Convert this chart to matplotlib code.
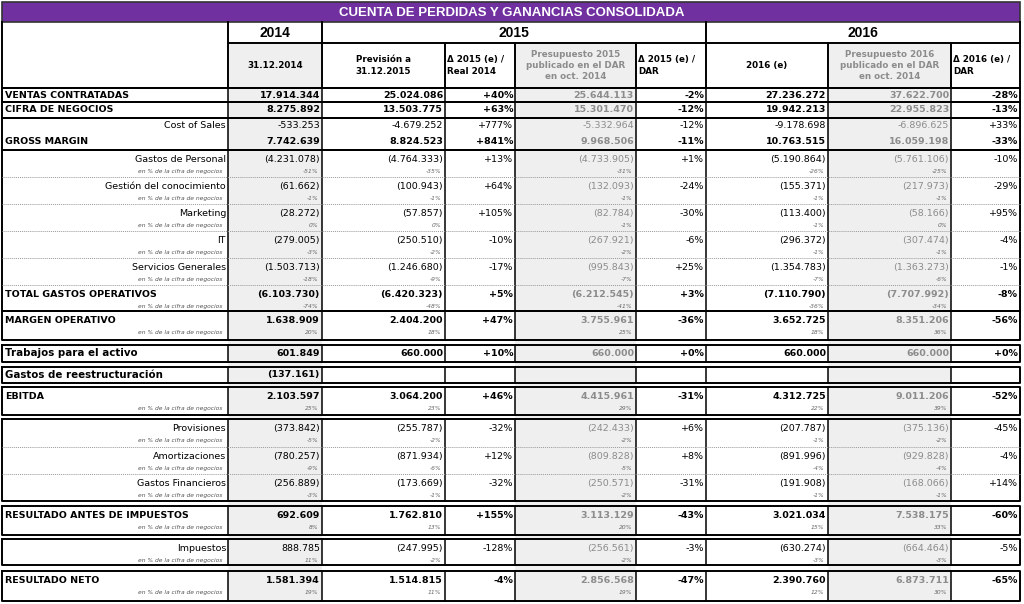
import matplotlib.pyplot as plt
from matplotlib.patches import Rectangle

# Row labels
labels = ["VENTAS CONTRATADAS", "CIFRA DE NEGOCIOS", "Cost of Sales", "GROSS MARGIN",
          "Gastos de Personal", "Gestión del conocimiento", "Marketing", "IT",
          "Servicios Generales", "TOTAL GASTOS OPERATIVOS", "MARGEN OPERATIVO",
          "Trabajos para el activo", "Gastos de reestructuración", "EBITDA",
          "Provisiones", "Amortizaciones", "Gastos Financieros",
          "RESULTADO ANTES DE IMPUESTOS", "Impuestos", "RESULTADO NETO"]
bold_rows = [1, 1, 0, 1, 0, 0, 0, 0, 0, 1, 1, 1, 1, 1, 0, 0, 0, 1, 0, 1]

# Values per column
real_2014 = ["17.914.344", "8.275.892", "-533.253", "7.742.639", "(4.231.078)", "(61.662)",
             "(28.272)", "(279.005)", "(1.503.713)", "(6.103.730)", "1.638.909", "601.849",
             "(137.161)", "2.103.597", "(373.842)", "(780.257)", "(256.889)", "692.609",
             "888.785", "1.581.394"]
prev_2015 = ["25.024.086", "13.503.775", "-4.679.252", "8.824.523", "(4.764.333)", "(100.943)",
             "(57.857)", "(250.510)", "(1.246.680)", "(6.420.323)", "2.404.200", "660.000",
             "", "3.064.200", "(255.787)", "(871.934)", "(173.669)", "1.762.810",
             "(247.995)", "1.514.815"]
d_2015_real = ["+40%", "+63%", "+777%", "+841%", "+13%", "+64%", "+105%", "-10%", "-17%",
               "+5%", "+47%", "+10%", "", "+46%", "-32%", "+12%", "-32%", "+155%", "-128%", "-4%"]
pres_2015 = ["25.644.113", "15.301.470", "-5.332.964", "9.968.506", "(4.733.905)", "(132.093)",
             "(82.784)", "(267.921)", "(995.843)", "(6.212.545)", "3.755.961", "660.000",
             "", "4.415.961", "(242.433)", "(809.828)", "(250.571)", "3.113.129",
             "(256.561)", "2.856.568"]
d_2015_dar = ["-2%", "-12%", "-12%", "-11%", "+1%", "-24%", "-30%", "-6%", "+25%", "+3%",
              "-36%", "+0%", "", "-31%", "+6%", "+8%", "-31%", "-43%", "-3%", "-47%"]
est_2016 = ["27.236.272", "19.942.213", "-9.178.698", "10.763.515", "(5.190.864)", "(155.371)",
            "(113.400)", "(296.372)", "(1.354.783)", "(7.110.790)", "3.652.725", "660.000",
            "", "4.312.725", "(207.787)", "(891.996)", "(191.908)", "3.021.034",
            "(630.274)", "2.390.760"]
pres_2016 = ["37.622.700", "22.955.823", "-6.896.625", "16.059.198", "(5.761.106)", "(217.973)",
             "(58.166)", "(307.474)", "(1.363.273)", "(7.707.992)", "8.351.206", "660.000",
             "", "9.011.206", "(375.136)", "(929.828)", "(168.066)", "7.538.175",
             "(664.464)", "6.873.711"]
d_2016_dar = ["-28%", "-13%", "+33%", "-33%", "-10%", "-29%", "+95%", "-4%", "-1%", "-8%",
              "-56%", "+0%", "", "-52%", "-45%", "-4%", "+14%", "-60%", "-5%", "-65%"]

# "en % de la cifra de negocios" sub values
pct_2014 = ["", "", "", "", "-51%", "-1%", "0%", "-3%", "-18%", "-74%", "20%", "", "", "25%",
            "-5%", "-9%", "-3%", "8%", "11%", "19%"]
pct_prev = ["", "", "", "", "-35%", "-1%", "0%", "-2%", "-9%", "-48%", "18%", "", "", "23%",
            "-2%", "-6%", "-1%", "13%", "-2%", "11%"]
pct_pres15 = ["", "", "", "", "-31%", "-1%", "-1%", "-2%", "-7%", "-41%", "25%", "", "", "29%",
              "-2%", "-5%", "-2%", "20%", "-2%", "19%"]
pct_2016 = ["", "", "", "", "-26%", "-1%", "-1%", "-1%", "-7%", "-36%", "18%", "", "", "22%",
            "-1%", "-4%", "-1%", "15%", "-3%", "12%"]
pct_pres16 = ["", "", "", "", "-25%", "-1%", "0%", "-1%", "-6%", "-34%", "36%", "", "", "39%",
              "-2%", "-4%", "-1%", "33%", "-3%", "30%"]

headers = ["31.12.2014", "Previsión a\n31.12.2015", "Δ 2015 (e) /\nReal 2014",
           "Presupuesto 2015\npublicado en el DAR\nen oct. 2014", "Δ 2015 (e) /\nDAR",
           "2016 (e)", "Presupuesto 2016\npublicado en el DAR\nen oct. 2014", "Δ 2016 (e) /\nDAR"]
years = ["2014", "2015", "2016"]
title = "CUENTA DE PERDIDAS Y GANANCIAS CONSOLIDADA"

# layout (pixels)
col_edges = [2, 228, 322, 445, 515, 636, 706, 828, 951, 1020]
row_top = [88, 102, 118, 134, 150, 177, 204, 231, 258, 285, 311, 345, 367, 387, 419, 447, 474, 506, 539, 571]
row_bot = [102, 118, 134, 150, 177, 204, 231, 258, 285, 311, 340, 362, 383, 415, 447, 474, 501, 535, 565, 601]
blocks = [[0], [1], [2, 3], [4, 5, 6, 7, 8, 9], [10], [11], [12], [13], [14, 15, 16], [17], [18], [19]]
gray_cols = [1, 4, 7]
budget_cols = [3, 6]
PURPLE = "#7030a0"
GRAYTXT = "#8c8c8c"
FILL = "#efefef"

fig = plt.figure(figsize=(10.24, 6.04), dpi=100)
ax = fig.add_axes([0, 0, 1, 1])
ax.set_xlim(0, 1024)
ax.set_ylim(604, 0)
ax.axis("off")

# shaded columns
for c in gray_cols:
    ax.add_patch(Rectangle((col_edges[c], 43), col_edges[c + 1] - col_edges[c], 601 - 43,
                           facecolor=FILL, edgecolor="none", zorder=0))

# title bar
ax.add_patch(Rectangle((2, 2), 1018, 20, facecolor=PURPLE, edgecolor="#333333", lw=1.2, zorder=1))
ax.text(512, 12.5, title, color="white", fontsize=9.5, fontweight="bold",
        family="Liberation Sans", ha="center", va="center")

# year row
lw = 1.4
ax.plot([2, 2, 1020, 1020], [22, 88, 88, 22], color="black", lw=lw)
ax.plot([228, 1020], [43, 43], color="black", lw=lw)
for x in [228, 322, 706]:
    ax.plot([x, x], [22, 43], color="black", lw=lw)
for x in col_edges[1:-1]:
    ax.plot([x, x], [43, 88], color="black", lw=lw)
ax.text(275, 33, years[0], fontsize=10, fontweight="bold", family="Liberation Sans", ha="center", va="center")
ax.text(514, 33, years[1], fontsize=10, fontweight="bold", family="Liberation Sans", ha="center", va="center")
ax.text(863, 33, years[2], fontsize=10, fontweight="bold", family="Liberation Sans", ha="center", va="center")

# header labels
for i, h in enumerate(headers):
    x0, x1 = col_edges[i + 1], col_edges[i + 2]
    col = GRAYTXT if i in budget_cols else "black"
    if h.startswith("Δ"):
        ax.text(x0 + 2, 65.5, h, fontsize=6.3, fontweight="bold", ha="left", va="center",
                linespacing=1.3, color=col)
    else:
        ax.text((x0 + x1) / 2, 65.5, h, fontsize=6.3, fontweight="bold", ha="center", va="center",
                linespacing=1.3, color=col)

# data columns
columns = [real_2014, prev_2015, d_2015_real, pres_2015, d_2015_dar, est_2016, pres_2016, d_2016_dar]
pct_cols = {0: pct_2014, 1: pct_prev, 3: pct_pres15, 5: pct_2016, 6: pct_pres16}

for r, lab in enumerate(labels):
    top, bot = row_top[r], row_bot[r]
    two = pct_2014[r] != ""
    y = top + 9.5 if two else (top + bot) / 2
    bold = bold_rows[r]
    fs = 7.4 if r in (11, 12) else 6.8
    if bold:
        ax.text(5, y, lab, fontsize=fs, fontweight="bold", ha="left", va="center")
    else:
        ax.text(226, y, lab, fontsize=6.8, ha="right", va="center")
    if two:
        ax.text(222, top + 21.5, "en % de la cifra de negocios", fontsize=4.3, style="italic",
                color="#555555", ha="right", va="center")
    for j, vals in enumerate(columns):
        xr = col_edges[j + 2] - 2
        col = GRAYTXT if j in budget_cols else "black"
        ax.text(xr, y, vals[r], fontsize=6.8, fontweight="bold" if bold else "normal",
                ha="right", va="center", color=col)
        if two and j in pct_cols:
            ax.text(xr - 2, top + 21.5, pct_cols[j][r], fontsize=4.3, style="italic",
                    color="#666666", ha="right", va="center")

# block borders and separators
for b in blocks:
    t, bt = row_top[b[0]], row_bot[b[-1]]
    ax.plot([2, 2, 1020, 1020, 2], [t, bt, bt, t, t], color="black", lw=lw)
    for x in col_edges[1:-1]:
        ax.plot([x, x], [t, bt], color="black", lw=1.1)
    if len(b) > 2:
        for r in b[1:]:
            ax.plot([2, 1020], [row_top[r], row_top[r]], color="#999999", lw=0.7, ls=(0, (1, 1)))

fig.savefig("out.png", dpi=100)
